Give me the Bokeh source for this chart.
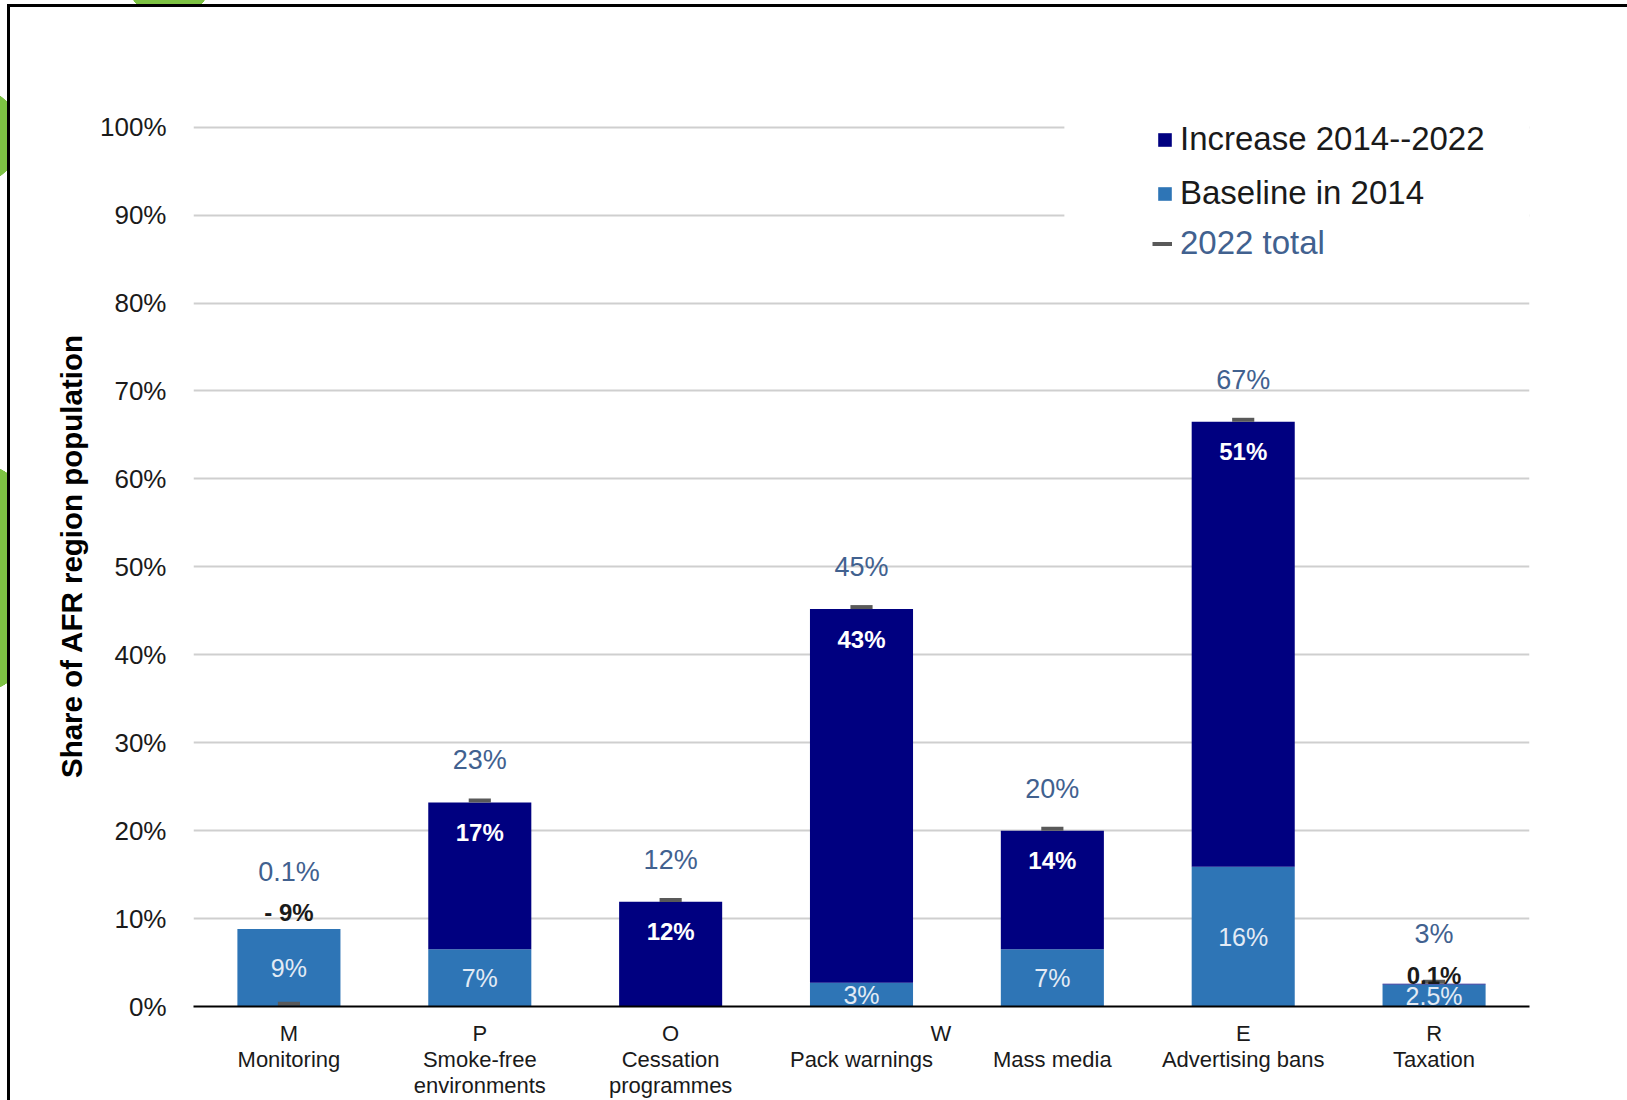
from bokeh.plotting import figure
from bokeh.models import (ColumnDataSource, FactorRange, Range1d, FixedTicker, PrintfTickFormatter,
                          Legend, LegendItem, BoxAnnotation, InlineStyleSheet)
from bokeh.transform import dodge
from bokeh.embed import file_html
from bokeh.resources import INLINE

# ---------------- data ----------------
letters = ["M", "P", "O", "W", "", "E", "R"]
names = ["Monitoring", "Smoke-free\nenvironments", "Cessation\nprogrammes", "Pack warnings",
         "Mass media", "Advertising bans", "Taxation"]
baseline_2014 = [8.8, 6.5, 0.0, 2.7, 6.5, 15.9, 2.5]
increase_2014_2022 = [0.0, 16.7, 11.9, 42.5, 13.5, 50.6, 0.1]
total_2022 = [0.1, 23.2, 11.9, 45.2, 20.0, 66.5, 2.6]
baseline_labels = ["9%", "7%", "", "3%", "7%", "16%", "2.5%"]
increase_labels = ["- 9%", "17%", "12%", "43%", "14%", "51%", "0.1%"]
total_labels = ["0.1%", "23%", "12%", "45%", "20%", "67%", "3%"]
y_ticks = list(range(0, 101, 10))

# ---------------- style ----------------
FONT = "Liberation Sans"
NAVY = "#000080"
BLUE = "#2E75B6"
SLATE = "#41618F"
GREEN = "#7DC243"
W, H = 1627, 1100
NBSP = "\u00a0"
# the "W" letter sits to the right of its bar: pad it with non-breaking spaces
letter_pad = {3: 26}
# labels of very small / negative increases sit above the bar: (increase label lift, total label lift)
lift_small = {0: (17, 57), 6: (8, 50)}

cats = []
for k, (l, n) in enumerate(zip(letters, names)):
    first = NBSP * letter_pad.get(k, 0) + (l if l else NBSP)
    cats.append(f"{first}\n{n}")

tops = [b + i for b, i in zip(baseline_2014, increase_2014_2022)]
inc_off, tot_off, inc_col = [], [], []
for k in range(len(cats)):
    if k in lift_small:
        inc_off.append(-lift_small[k][0]); tot_off.append(-lift_small[k][1]); inc_col.append("#1a1a1a")
    else:
        inc_off.append(30); tot_off.append(-42); inc_col.append("white")

src = ColumnDataSource(dict(
    cat=cats, baseline=baseline_2014, increase=increase_2014_2022, total=total_2022,
    top=tops, mid=[b / 2 for b in baseline_2014],
    blab=baseline_labels, ilab=increase_labels, tlab=total_labels,
    ioff=inc_off, toff=tot_off, icol=inc_col,
))

p = figure(x_range=FactorRange(*cats), y_range=Range1d(0, 102.46),
           width=W, height=H, output_backend="svg", toolbar_location=None,
           min_border_left=193, min_border_right=98, min_border_top=105, min_border_bottom=92)
p.outline_line_color = None
p.background_fill_color = "white"
p.border_fill_color = "white"

# gridlines
p.xgrid.grid_line_color = None
p.ygrid.grid_line_color = "#CFCFCF"
p.ygrid.grid_line_width = 2

# bars
r_base, r_inc = p.vbar_stack(["baseline", "increase"], x="cat", width=0.54, color=[BLUE, NAVY],
                             line_color=None, source=src)

# 2022 total markers (a short dash resting on the value)
r_tot = p.segment(x0=dodge("cat", -0.058, range=p.x_range), y0=dodge("total", 0.22),
                  x1=dodge("cat", 0.058, range=p.x_range), y1=dodge("total", 0.22),
                  line_color="#595959", line_width=4, source=src)

# labels
p.text(x="cat", y="mid", text="blab", source=src, text_align="center", text_baseline="middle",
       text_color="#E3EBF5", text_font_size="25px", text_font={"value": FONT})
p.text(x="cat", y="top", text="ilab", source=src, text_align="center", text_baseline="middle",
       y_offset="ioff", text_color="icol", text_font_size="24px", text_font_style="bold",
       text_font={"value": FONT})
p.text(x="cat", y="top", text="tlab", source=src, text_align="center", text_baseline="middle",
       y_offset="toff", text_color=SLATE, text_font_size="27px", text_font={"value": FONT})

# axes
p.yaxis.ticker = FixedTicker(ticks=y_ticks)
p.yaxis.formatter = PrintfTickFormatter(format="%d%%")
p.yaxis.axis_line_color = None
p.yaxis.major_tick_line_color = None
p.yaxis.minor_tick_line_color = None
p.yaxis.major_tick_out = 0
p.yaxis.major_label_standoff = 27
p.yaxis.major_label_text_font = FONT
p.yaxis.major_label_text_font_size = "26px"
p.yaxis.major_label_text_color = "#1a1a1a"
p.yaxis.axis_label = "Share of AFR region population"
p.yaxis.axis_label_text_font = FONT
p.yaxis.axis_label_text_font_size = "29.5px"
p.yaxis.axis_label_text_font_style = "bold"
p.yaxis.axis_label_text_color = "black"
p.yaxis.axis_label_standoff = 9

p.xaxis.axis_line_color = "black"
p.xaxis.axis_line_width = 2
p.xaxis.major_tick_line_color = None
p.xaxis.major_tick_out = 0
p.xaxis.major_label_standoff = 14
p.xaxis.major_label_text_font = FONT
p.xaxis.major_label_text_font_size = "22px"
p.xaxis.major_label_text_color = "#1a1a1a"
p.xaxis.major_label_text_line_height = 1.04

# white area behind the legend hiding the top gridlines
p.add_layout(BoxAnnotation(left=4.563, bottom=85, fill_color="white", fill_alpha=1,
                           line_color=None, level="underlay"))

leg_kw = dict(padding=0, margin=0, border_line_color=None, background_fill_alpha=0,
              label_text_font=FONT, label_text_font_size="33px", label_standoff=7,
              spacing=16, glyph_width=17, glyph_height=17)
leg1 = Legend(items=[LegendItem(label="Increase 2014--2022", renderers=[r_inc]),
                     LegendItem(label="Baseline in 2014", renderers=[r_base])],
              location=(963, 794), label_text_color="#1a1a1a", **leg_kw)
leg2 = Legend(items=[LegendItem(label="2022 total", renderers=[r_tot])],
              location=(959, 744), label_text_color=SLATE, **leg_kw)
leg2.glyph_width = 20
leg2.label_standoff = 8
p.add_layout(leg1)
p.add_layout(leg2)

# slide decorations (outside the chart area): black slide border and green blobs peeking out
css = f"""
:host::before {{
  content: ""; position: absolute; left: 0; top: 4px; width: 10px; bottom: 0;
  z-index: 50; pointer-events: none;
  background:
    linear-gradient(to right, transparent 7px, #000 7px, #000 10px, transparent 10px),
    radial-gradient(circle 50px at -29px 132px, {GREEN} 49.5px, transparent 50px),
    radial-gradient(circle 125px at -60px 574px, {GREEN} 124.5px, transparent 125px);
}}
:host::after {{
  content: ""; position: absolute; left: 0; top: 0; right: 0; height: 7px;
  z-index: 50; pointer-events: none;
  background:
    linear-gradient(to right, transparent 7px, #000 7px),
    radial-gradient(circle 44px at 169px -25px, {GREEN} 43.5px, transparent 44px);
  background-size: 100% 3px, 100% 100%;
  background-position: 0 4px, 0 0;
  background-repeat: no-repeat;
}}
"""
p.stylesheets = [InlineStyleSheet(css=css)]

open("out.html", "w").write(file_html(p, INLINE))
